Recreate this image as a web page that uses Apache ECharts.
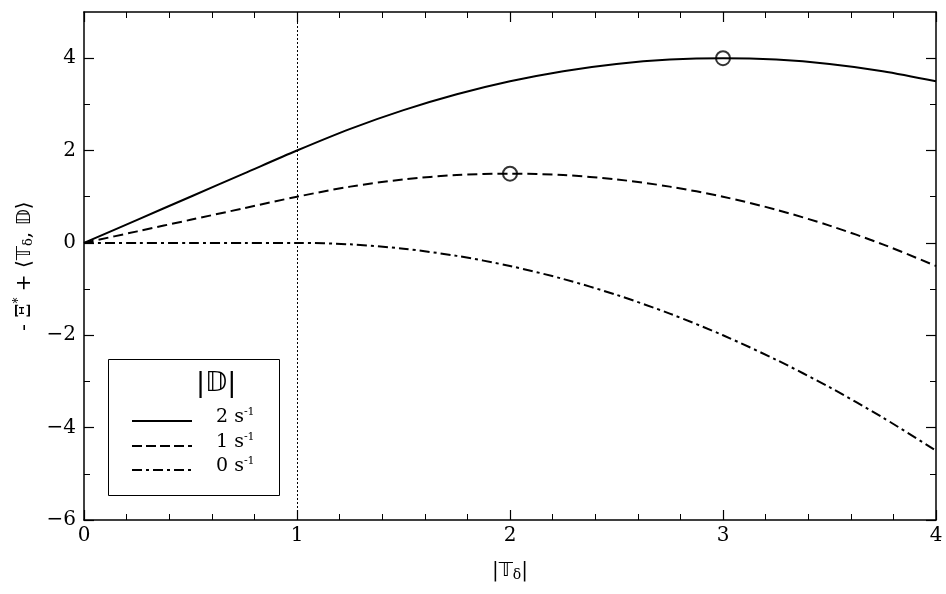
<!DOCTYPE html>
<html><head><meta charset="utf-8">
<script src="https://cdn.jsdelivr.net/npm/echarts@6/dist/echarts.min.js"></script>
<style>html,body{margin:0;padding:0;background:#fff}#c{width:946px;height:594px}</style>
</head><body><div id="c"></div>
<script>
const xValues = [0, 0.25, 0.5, 0.75, 1, 1.25, 1.5, 1.75, 2, 2.25, 2.5, 2.75, 3, 3.25, 3.5, 3.75, 4];
const series2 = [0, 0.5, 1, 1.5, 2, 2.469, 2.875, 3.219, 3.5, 3.719, 3.875, 3.969, 4, 3.969, 3.875, 3.719, 3.5];
const series1 = [0, 0.25, 0.5, 0.75, 1, 1.219, 1.375, 1.469, 1.5, 1.469, 1.375, 1.219, 1, 0.719, 0.375, -0.031, -0.5];
const series0 = [0, 0, 0, 0, 0, -0.031, -0.125, -0.281, -0.5, -0.781, -1.125, -1.531, -2, -2.531, -3.125, -3.781, -4.5];
const maxima = [[3, 4], [2, 1.5]];
const legendNames = ['2', '1', '0'];
const xTicks = [0, 1, 2, 3, 4];
const yTicks = [-6, -4, -2, 0, 2, 4];

const FONT = 'DejaVu Serif';
const pair = a => xValues.map((x, i) => [x, a[i]]);
const minusFmt = v => String(v).replace('-', '\u2212');

const axisCommon = {
  axisLine: { show: true, onZero: false, lineStyle: { color: '#000', width: 1.5 } },
  axisTick: { show: true, inside: true, length: 10, lineStyle: { color: '#000', width: 1.2 } },
  minorTick: { show: true, length: 6, lineStyle: { color: '#000', width: 1 } },
  splitLine: { show: false }
};

const chart = echarts.init(document.getElementById('c'), null, { renderer: 'canvas' });
chart.setOption({
  animation: false,
  backgroundColor: '#fff',
  grid: { left: 84, right: 10, top: 12, bottom: 74, containLabel: false },
  xAxis: [
    Object.assign({}, axisCommon, {
      type: 'value', min: 0, max: 4, interval: 1,
      minorTick: Object.assign({}, axisCommon.minorTick, { splitNumber: 5 }),
      axisLabel: { fontFamily: FONT, fontSize: 20, color: '#000', margin: 6 },
      name: '{b||}{t|\uD835\uDD4B}{s|\u03B4}{b||}', nameLocation: 'middle', nameGap: 40,
      nameTextStyle: { rich: {
        b: { fontFamily: FONT, fontSize: 20, color: '#000' },
        t: { fontFamily: 'DejaVu Sans', fontSize: 20, color: '#000' },
        s: { fontFamily: FONT, fontSize: 14, color: '#000', verticalAlign: 'bottom', padding: [8, 0, 0, 0] }
      } }
    }),
    Object.assign({}, axisCommon, {
      type: 'value', min: 0, max: 4, interval: 1, position: 'top',
      minorTick: Object.assign({}, axisCommon.minorTick, { splitNumber: 5 }),
      axisLabel: { show: false }
    })
  ],
  yAxis: [
    Object.assign({}, axisCommon, {
      type: 'value', min: -6, max: 5, interval: 2,
      minorTick: Object.assign({}, axisCommon.minorTick, { splitNumber: 2 }),
      axisLabel: { fontFamily: FONT, fontSize: 20, color: '#000', margin: 8, formatter: minusFmt,
        customValues: yTicks },
      axisTick: Object.assign({}, axisCommon.axisTick, { customValues: yTicks }),
      name: '{n|- \u039E}{sup|*}{n| + \u27E8}{t|\uD835\uDD4B}{s|\u03B4}{n|, }{t|\uD835\uDD3B}{n|\u27E9}',
      nameLocation: 'middle', nameGap: 44, nameRotate: 90,
      nameTextStyle: { rich: {
        n: { fontFamily: FONT, fontSize: 20, color: '#000' },
        t: { fontFamily: 'DejaVu Sans', fontSize: 20, color: '#000' },
        sup: { fontFamily: FONT, fontSize: 12, color: '#000', padding: [0, 0, 12, 0] },
        s: { fontFamily: FONT, fontSize: 13, color: '#000', padding: [9, 0, 0, 0] }
      } }
    }),
    Object.assign({}, axisCommon, {
      type: 'value', min: -6, max: 5, interval: 2, position: 'right',
      minorTick: Object.assign({}, axisCommon.minorTick, { splitNumber: 2 }),
      axisLabel: { show: false },
      axisTick: Object.assign({}, axisCommon.axisTick, { customValues: yTicks })
    })
  ],
  series: [
    { type: 'line', data: pair(series2), showSymbol: false, smooth: 0.3, symbol: 'none',
      lineStyle: { color: '#000', width: 2 }, z: 3,
      markLine: { silent: true, symbol: 'none', label: { show: false },
        lineStyle: { color: '#000', width: 1, type: [2, 2] }, data: [{ xAxis: 1 }] } },
    { type: 'line', data: pair(series1), showSymbol: false, smooth: 0.3, symbol: 'none',
      lineStyle: { color: '#000', width: 2, type: [10, 5] }, z: 3 },
    { type: 'line', data: pair(series0), showSymbol: false, smooth: 0.3, symbol: 'none',
      lineStyle: { color: '#000', width: 2, type: [10, 4, 3, 4] }, z: 3 },
    { type: 'scatter', data: maxima, symbol: 'circle', symbolSize: 14, z: 4,
      itemStyle: { color: 'rgba(0,0,0,0)', borderColor: '#000', borderWidth: 2 } }
  ],
  graphic: [
    { type: 'rect', left: 108, top: 359, shape: { width: 171, height: 136 },
      style: { fill: '#fff', stroke: '#000', lineWidth: 1 }, z: 10 },
    { type: 'text', left: 196, top: 370, z: 11,
      style: { text: '|\uD835\uDD3B|', font: '27px "DejaVu Sans"', fill: '#000' } },
    { type: 'line', shape: { x1: 132, y1: 421, x2: 192, y2: 421 }, z: 11,
      style: { stroke: '#000', lineWidth: 2 } },
    { type: 'line', shape: { x1: 132, y1: 446, x2: 192, y2: 446 }, z: 11,
      style: { stroke: '#000', lineWidth: 2, lineDash: [10, 4] } },
    { type: 'line', shape: { x1: 132, y1: 470, x2: 192, y2: 470 }, z: 11,
      style: { stroke: '#000', lineWidth: 2, lineDash: [10, 4, 3, 4] } }
  ].concat(legendNames.map((n, i) => ({
    type: 'text', left: 216, top: 407 + i * 24.5, z: 11,
    style: { text: '{a|' + n + ' s}{s|-1}', rich: {
      a: { fontFamily: FONT, fontSize: 19, fill: '#000' },
      s: { fontFamily: FONT, fontSize: 11, fill: '#000', padding: [0, 0, 10, 0] } } }
  })))
});
</script></body></html>
